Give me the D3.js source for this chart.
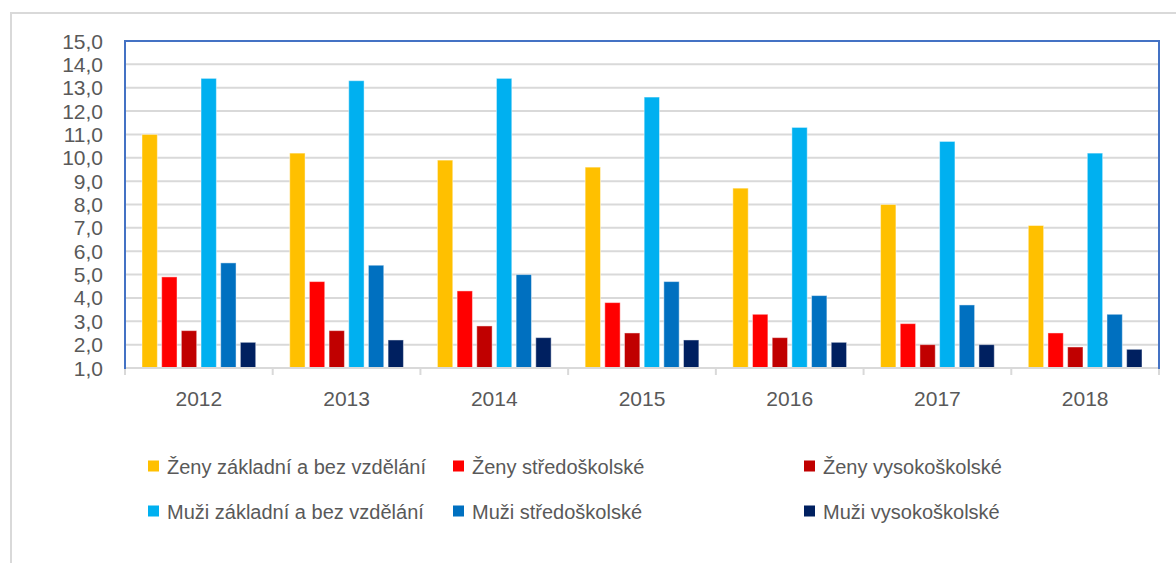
<!DOCTYPE html>
<html lang="cs">
<head>
<meta charset="utf-8">
<style>
body { margin: 0; background: #fff; }
text { font-family: "Liberation Sans", Arial, sans-serif; fill: #595959; }
.grid line { stroke: #d9d9d9; stroke-width: 2px; }
</style>
</head>
<body>
<svg width="1176" height="563"></svg>
<script src="https://d3js.org/d3.v7.min.js"></script>
<script>

var years = ["2012", "2013", "2014", "2015", "2016", "2017", "2018"];
var seriesNames = [
  "Ženy základní a bez vzdělání",
  "Ženy středoškolské",
  "Ženy vysokoškolské",
  "Muži základní a bez vzdělání",
  "Muži středoškolské",
  "Muži vysokoškolské"
];
var zenyZakladni   = [11.0, 10.2, 9.9, 9.6, 8.7, 8.0, 7.1];
var zenyStredo     = [4.9, 4.7, 4.3, 3.8, 3.3, 2.9, 2.5];
var zenyVysoko     = [2.6, 2.6, 2.8, 2.5, 2.3, 2.0, 1.9];
var muziZakladni   = [13.4, 13.3, 13.4, 12.6, 11.3, 10.7, 10.2];
var muziStredo     = [5.5, 5.4, 5.0, 4.7, 4.1, 3.7, 3.3];
var muziVysoko     = [2.1, 2.2, 2.3, 2.2, 2.1, 2.0, 1.8];
var yTicks = [1, 2, 3, 4, 5, 6, 7, 8, 9, 10, 11, 12, 13, 14, 15];

var colors = ["#FFC000", "#FF0000", "#C00000", "#00B0F0", "#0070C0", "#002060"];
var values = [zenyZakladni, zenyStredo, zenyVysoko, muziZakladni, muziStredo, muziVysoko];

var svg = d3.select("svg");

// outer chart frame
svg.append("rect")
    .attr("x", 11).attr("y", 13)
    .attr("width", 1200).attr("height", 600)
    .attr("fill", "none")
    .attr("stroke", "#d9d9d9")
    .attr("stroke-width", 2);

var plotL = 125, plotR = 1159, plotT = 41, plotB = 368;

var x0 = d3.scaleBand().domain(years).range([plotL, plotR]);
var x1 = d3.scaleBand().domain(d3.range(6))
    .range([17, x0.bandwidth() - 17])
    .paddingInner(0.22);
var y = d3.scaleLinear().domain([1, 15]).range([plotB, plotT]);

// gridlines
svg.append("g").attr("class", "grid")
  .selectAll("line")
  .data(yTicks.slice(1))
  .enter().append("line")
    .attr("x1", plotL).attr("x2", plotR)
    .attr("y1", function(d) { return y(d); })
    .attr("y2", function(d) { return y(d); });

// plot area border
svg.append("rect")
    .attr("x", plotL).attr("y", plotT)
    .attr("width", plotR - plotL).attr("height", plotB - plotT)
    .attr("fill", "none")
    .attr("stroke", "#4472C4")
    .attr("stroke-width", 2);

// bars
var groups = svg.append("g").selectAll("g")
    .data(years)
    .enter().append("g")
    .attr("transform", function(d) { return "translate(" + x0(d) + ",0)"; });

groups.selectAll("rect")
    .data(function(d, i) { return values.map(function(s, k) { return {k: k, v: s[i]}; }); })
    .enter().append("rect")
    .attr("x", function(d) { return x1(d.k); })
    .attr("width", x1.bandwidth())
    .attr("y", function(d) { return y(d.v); })
    .attr("height", function(d) { return y(1) - y(d.v); })
    .attr("fill", function(d) { return colors[d.k]; })
    .attr("stroke", "rgba(255,255,255,0.45)")
    .attr("stroke-width", 1);

// x axis
var xAxis = svg.append("g")
    .attr("transform", "translate(0," + plotB + ")");
xAxis.append("line")
    .attr("x1", plotL + 1).attr("x2", plotR - 1)
    .attr("stroke", "#d9d9d9").attr("stroke-width", 2);
xAxis.selectAll(".tk")
    .data(years.concat(["end"]))
    .enter().append("line")
    .attr("x1", function(d, i) { return plotL + i * x0.bandwidth(); })
    .attr("x2", function(d, i) { return plotL + i * x0.bandwidth(); })
    .attr("y1", 1).attr("y2", 7)
    .attr("stroke", "#d9d9d9").attr("stroke-width", 2);
xAxis.selectAll("text")
    .data(years)
    .enter().append("text")
    .attr("x", function(d) { return x0(d) + x0.bandwidth() / 2; })
    .attr("y", 38)
    .attr("text-anchor", "middle")
    .style("font-size", "21px")
    .text(function(d) { return d; });

// y axis labels
svg.append("g").selectAll("text")
    .data(yTicks)
    .enter().append("text")
    .attr("x", 103)
    .attr("y", function(d) { return y(d) + 7.5; })
    .attr("text-anchor", "end")
    .style("font-size", "21px")
    .text(function(d) { return d3.format(".1f")(d).replace(".", ","); });

// legend
var legX = [148, 453, 804];
var legY = [466, 511];
var legend = svg.append("g").selectAll("g")
    .data(seriesNames)
    .enter().append("g")
    .attr("transform", function(d, i) {
      return "translate(" + legX[i % 3] + "," + legY[Math.floor(i / 3)] + ")";
    });
legend.append("rect")
    .attr("x", 0).attr("y", -5.5)
    .attr("width", 11).attr("height", 11)
    .attr("fill", function(d, i) { return colors[i]; });
legend.append("text")
    .attr("x", 19).attr("y", 7.5)
    .style("font-size", "20px")
    .text(function(d) { return d; });

</script>
</body>
</html>
